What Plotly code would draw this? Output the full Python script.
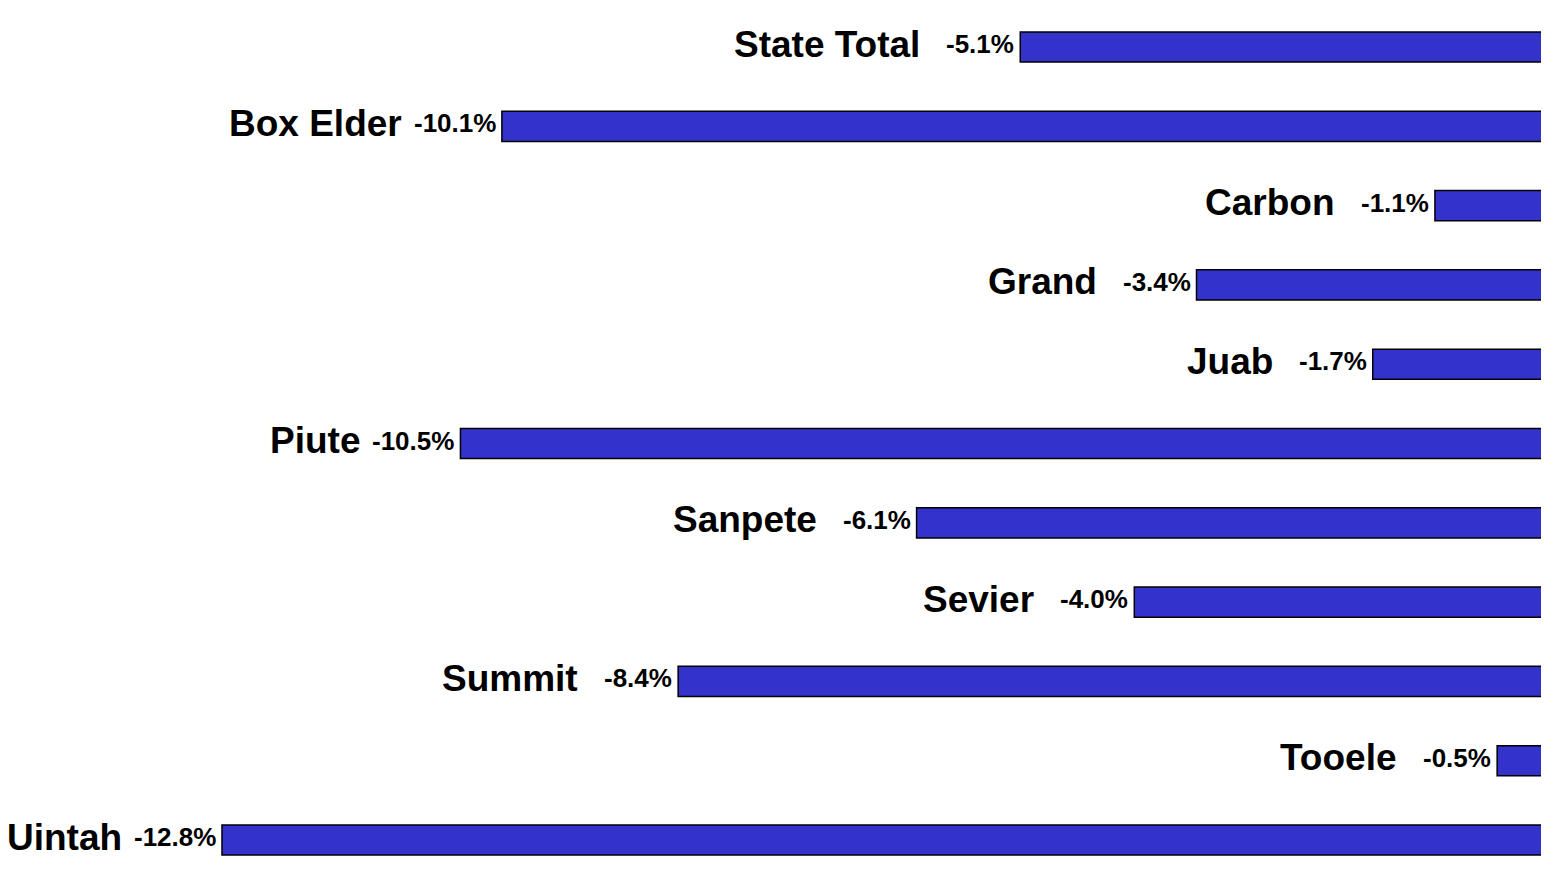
import plotly.graph_objects as go

# county names and percent change (top to bottom)
counties = ["State Total", "Box Elder", "Carbon", "Grand", "Juab", "Piute",
            "Sanpete", "Sevier", "Summit", "Tooele", "Uintah"]
pct_change = [-5.1, -10.1, -1.1, -3.4, -1.7, -10.5, -6.1, -4.0, -8.4, -0.5, -12.8]

FONT = "Arial, Liberation Sans, sans-serif"

fig = go.Figure()
fig.add_trace(go.Bar(
    x=pct_change, y=counties, orientation="h",
    width=0.38,
    marker=dict(color="#3333CC", line=dict(color="black", width=1.5)),
    hoverinfo="skip",
))

for name, val in zip(counties, pct_change):
    # value label just left of the bar end
    fig.add_annotation(
        x=val, y=name, xref="x", yref="y",
        text=f"<b>{val:.1f}%</b>", showarrow=False,
        xanchor="right", yanchor="middle", xshift=-4, yshift=3,
        font=dict(family=FONT, size=26, color="black"),
    )
    # county name further left
    fig.add_annotation(
        x=val, y=name, xref="x", yref="y",
        text=f"<b>{name}</b>", showarrow=False,
        xanchor="right", yanchor="middle", xshift=-98, yshift=3,
        font=dict(family=FONT, size=37, color="black"),
    )

# page body keeps an 8px margin; size the figure so the page does not overflow.
# zero sits just past the right edge so the bars run off the side
fig.update_layout(
    width=1533, height=859,
    margin=dict(l=0, r=0, t=0, b=0),
    plot_bgcolor="white", paper_bgcolor="white",
    showlegend=False,
    xaxis=dict(range=[-14.864, -0.077], visible=False, fixedrange=True),
    yaxis=dict(range=[10.340, -0.492], visible=False, fixedrange=True),
)

fig.write_html("out.html")
